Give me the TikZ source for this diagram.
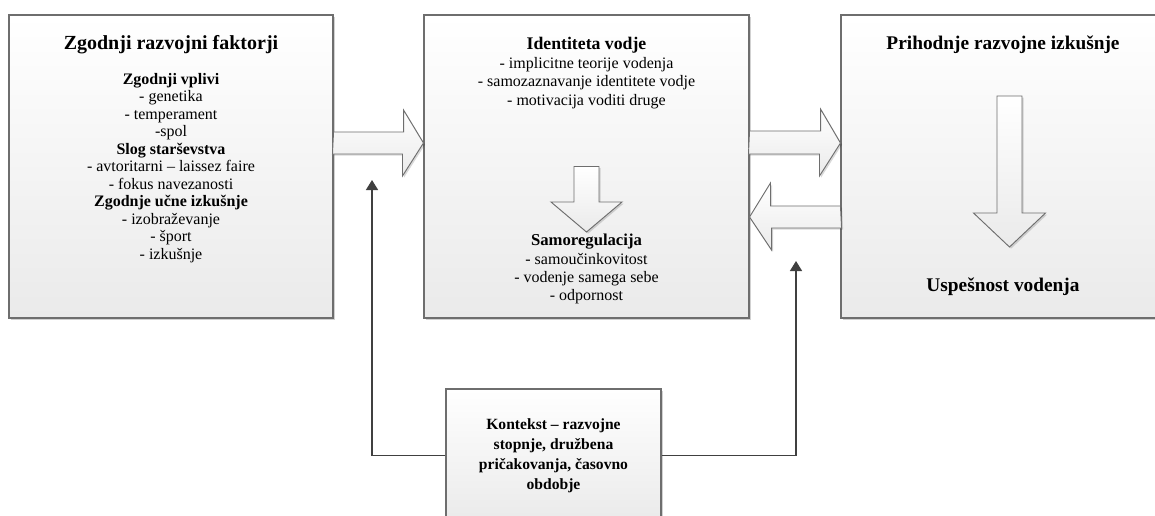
\documentclass[tikz,border=0pt]{standalone}
\usepackage{fontspec}
\setmainfont{Liberation Serif}
\usetikzlibrary{arrows.meta,positioning,calc,shadows}
\definecolor{boxline}{HTML}{6E6E6E}
\definecolor{boxfoot}{HTML}{EAEAEA}
\definecolor{linkgray}{HTML}{404040}
\tikzset{
  stagebox/.style={draw=boxline, line width=0.8pt, top color=white, bottom color=boxfoot,
                   inner sep=0pt,
                   drop shadow={shadow xshift=1.5pt, shadow yshift=-1.5pt, opacity=0.18, fill=black}},
  headtext/.style={font=\fontsize{14.5}{17}\selectfont\bfseries, align=center, inner sep=0pt},
  itemtext/.style={font=\fontsize{12}{13.1}\selectfont, align=center, inner sep=0pt},
  bigarr/.style={draw=boxline, line width=0.7pt, top color=white, bottom color=boxfoot,
                 drop shadow={shadow xshift=1.2pt, shadow yshift=-1.2pt, opacity=0.15, fill=black}},
  linkarr/.style={-{Triangle[length=7.5pt,width=9pt]}, line width=1.1pt, color=linkgray}}

\begin{document}
\begin{tikzpicture}[x=0.75pt,y=-0.75pt]
  \clip (0,0) rectangle (1155,515);
  \fill[white] (0,0) rectangle (1155,515);

  % boxes
  \node[stagebox, minimum width=243pt, minimum height=227.25pt] (early) at (171,166.5) {};
  \node[stagebox, minimum width=243.75pt, minimum height=227.25pt] (ident) at (586.5,166.5) {};
  \node[stagebox, minimum width=252.75pt, minimum height=227.25pt] (future) at (1009.5,166.5) {};
  \node[stagebox, minimum width=161.25pt, minimum height=99.75pt] (ctx) at (553.5,455.5) {};

  % texts
  \node[headtext, font=\fontsize{15}{18}\selectfont\bfseries] (earlyhead) at (171,45) {Zgodnji razvojni faktorji};
  \node[itemtext, anchor=north] (earlyitems) at (171,73) {%
    \textbf{Zgodnji vplivi}\\
    - genetika\\
    - temperament\\
    -spol\\
    \textbf{Slog starševstva}\\
    - avtoritarni – laissez faire\\
    - fokus navezanosti\\
    \textbf{Zgodnje učne izkušnje}\\
    - izobraževanje\\
    - šport\\
    - izkušnje};

  \node[headtext, font=\fontsize{13.3}{16}\selectfont\bfseries] (identhead) at (586.5,45) {Identiteta vodje};
  \node[itemtext, font=\fontsize{12}{13.9}\selectfont, anchor=north] (identitems) at (586.5,57) {%
    - implicitne teorije vodenja\\
    - samozaznavanje identitete vodje\\
    - motivacija voditi druge};
  \node[headtext, font=\fontsize{12.5}{15}\selectfont\bfseries] (selfhead) at (586.5,242) {Samoregulacija};
  \node[itemtext, font=\fontsize{12}{13.5}\selectfont, anchor=north] (selfitems) at (586.5,253) {%
    - samoučinkovitost\\
    - vodenje samega sebe\\
    - odpornost};

  \node[headtext] (futurehead) at (1003,45) {Prihodnje razvojne izkušnje};
  \node[headtext] (successhead) at (1003,287) {Uspešnost vodenja};

  \node[headtext, font=\fontsize{11.7}{15}\selectfont\bfseries] (ctxtext) at (553.5,456) {Kontekst – razvojne\\stopnje, družbena\\pričakovanja, časovno\\obdobje};

  % block arrows between boxes
  \draw[bigarr] ($(early.east)+(0,-34.5)$) -- ++(70,0) -- ++(0,-22)
    -- ($(ident.west)+(0,-23.5)$) -- ++(-21,33) -- ++(0,-22) -- ++(-70,0) -- cycle;
  \draw[bigarr] ($(ident.east)+(0,-35.5)$) -- ++(71,0) -- ++(0,-22)
    -- ($(future.west)+(0,-23.5)$) -- ++(-21,33) -- ++(0,-22) -- ++(-71,0) -- cycle;
  \draw[bigarr] ($(future.west)+(0,39.5)$) -- ++(-70,0) -- ++(0,-23)
    -- ($(ident.east)+(0,50.5)$) -- ++(22,33) -- ++(0,-22) -- ++(70,0) -- cycle;

  % down arrows inside boxes
  \draw[bigarr] ($(ident.center)+(-12.5,0)$) -- ++(25,0) -- ++(0,35.5) -- ++(23,0)
    -- ++(-35.5,30) -- ++(-35.5,-30) -- ++(23,0) -- cycle;
  \draw[bigarr] ($(future.center)+(-12.5,-70.5)$) -- ++(25,0) -- ++(0,117) -- ++(23.5,0)
    -- ++(-36,34) -- ++(-36,-34) -- ++(23.5,0) -- cycle;

  % context links
  \coordinate (ctxin1) at (372,180);
  \coordinate (ctxin2) at (796,261);
  \draw[linkarr] (ctx.west) -| (ctxin1);
  \draw[linkarr] (ctx.east) -| (ctxin2);
\end{tikzpicture}
\end{document}
